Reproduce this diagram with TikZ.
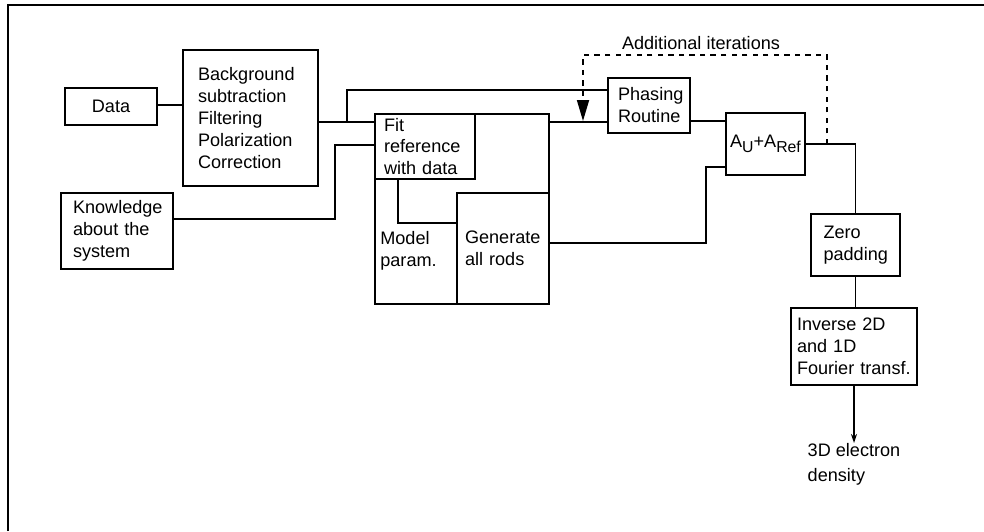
\documentclass[tikz,border=0pt]{standalone}
\usepackage{fontspec}
\setmainfont{Liberation Sans}
\usetikzlibrary{arrows.meta}
\tikzset{
  box/.style={draw,line width=1pt,inner sep=0pt,align=left,
    font=\fontsize{10.3}{12.5}\selectfont},
  plain/.style={inner sep=0pt,align=left,font=\fontsize{10.3}{12.5}\selectfont},
  wire/.style={line width=1pt}
}
\begin{document}
\begin{tikzpicture}[x=0.02cm,y=-0.02cm]
  \useasboundingbox (0,0) rectangle (984,531);
  \draw[line width=1.3pt] (8,531)--(8,5)--(984,5);
  % boxes
  \node[box,minimum width=1.84cm,minimum height=0.74cm,align=center] (data) at (111,106.5) {Data};
  \node[box,minimum width=2.7cm,minimum height=2.72cm,text width=2.1cm] (bgsub) at (250.5,118)
    {Background\\subtraction\\Filtering\\Polarization\\Correction};
  \node[box,minimum width=2.24cm,minimum height=1.52cm,text width=1.76cm] (know) at (117,231)
    {Knowledge\\about the\\system};
  \node[box,minimum width=3.48cm,minimum height=3.8cm] (fitblock) at (462,209) {};
  \node[box,minimum width=2cm,minimum height=1.3cm,text width=1.64cm] (fit) at (425,146.5)
    {Fit\\reference\\with data};
  \node[box,minimum width=1.84cm,minimum height=2.22cm,text width=1.52cm] (gen) at (503,248.5)
    {Generate\\all rods\\[0.4cm]};
  \node[plain,anchor=west] (model) at (380,250.5) {Model\\param.};
  \node[box,minimum width=1.64cm,minimum height=1.1cm,text width=1.24cm] (phase) at (649,105.5)
    {Phasing\\Routine};
  \node[box,minimum width=1.58cm,minimum height=1.24cm,align=center] (sum) at (765.5,144)
    {A\raisebox{-0.5ex}{\small U}+A\raisebox{-0.5ex}{\small Ref}};
  \node[box,minimum width=1.78cm,minimum height=1.24cm,text width=1.28cm] (zero) at (855.5,245)
    {Zero\\padding};
  \node[box,minimum width=2.52cm,minimum height=1.54cm,text width=2.28cm] (inv) at (854,346.5)
    {Inverse 2D\\and 1D\\Fourier transf.};
  \node[plain,anchor=north] (dens) at (854,443) {3D electron\\[2pt]density};
  \node[plain] (iter) at (701,43) {Additional iterations};
  % bend points
  \coordinate (j1) at (347,122);
  \coordinate (j2) at (347,90);
  \coordinate (k1) at (335,219);
  \coordinate (k2) at (335,145);
  \coordinate (f1) at (398,223);
  \coordinate (p1) at (583,121);
  \coordinate (q1) at (700,121);
  \coordinate (g1) at (706,243);
  \coordinate (g2) at (706,167);
  \coordinate (loop) at (827,55);
  % connectors
  \draw[wire] (data.east |- 0,105)--(bgsub.west |- 0,105);
  \draw[wire] (j1 -| bgsub.east)--(j1 -| fit.west);
  \draw[wire] (j1)--(j2)--(j2 -| phase.west);
  \draw[wire] (k1 -| know.east)--(k1)--(k2)--(k2 -| fit.west);
  \draw[wire] (f1 |- fit.south)--(f1)--(f1 -| gen.west);
  \draw[wire] (j1 -| fitblock.east)--(j1 -| phase.west);
  \draw[wire] (q1 -| phase.east)--(q1 -| sum.west);
  \draw[wire] (g1 -| gen.east)--(g1)--(g2)--(g2 -| sum.west);
  \draw[wire] (sum.east) -| (zero.north);
  \draw[wire] (zero.south)--(zero.south |- inv.north);
  \draw[wire,dashed,-{Triangle[length=0.42cm,width=0.24cm]}] (loop |- sum.east)--(loop) -| (p1);
  \draw[wire,-{Stealth[length=0.18cm,width=0.12cm]}] (inv.south)--(dens.north);
\end{tikzpicture}
\end{document}
